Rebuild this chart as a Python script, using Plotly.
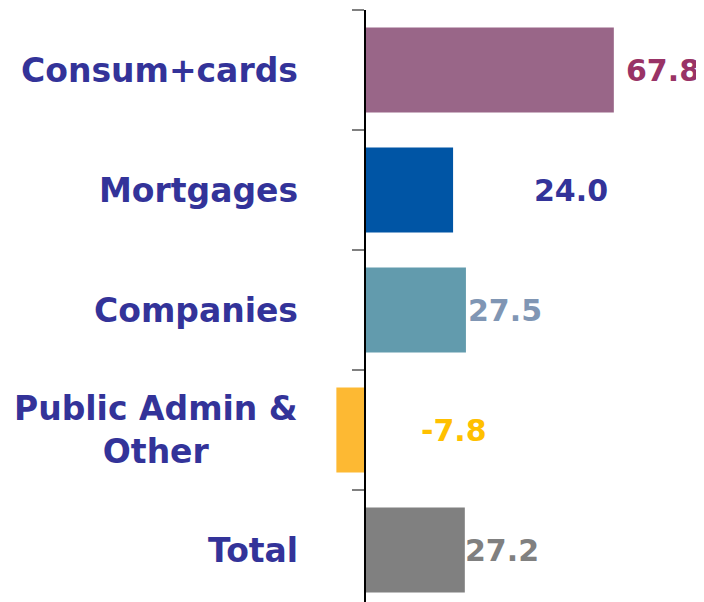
import plotly.graph_objects as go

categories = ["Consum+cards", "Mortgages", "Companies", "Public Admin &<br>Other", "Total"]
values = [67.8, 24.0, 27.5, -7.8, 27.2]
value_labels = ["67.8", "24.0", "27.5", "-7.8", "27.2"]

bar_colors = ["#996688", "#0055A5", "#629BAD", "#FDB933", "#808080"]
label_colors = ["#993366", "#333399", "#8096B4", "#FFC000", "#808080"]
# horizontal pixel offsets of the value labels from the bar end (or from zero for negatives)
label_shift_px = [10, 79, 0, 54, -2]

PAGE_OFFSET = 8  # default body margin of the html page
W, H = 704 - PAGE_OFFSET, 602 - PAGE_OFFSET
px_per_unit = 3.67
zero_px = 365 - PAGE_OFFSET
x_min = -zero_px / px_per_unit
x_max = (W - zero_px) / px_per_unit
top_margin = 10 - PAGE_OFFSET
cat_px = 120
y_bottom = -0.5 + (H - top_margin) / cat_px

fig = go.Figure()
fig.add_trace(go.Bar(
    y=categories,
    x=values,
    orientation="h",
    marker=dict(color=bar_colors, line=dict(width=0)),
    width=0.71,
    hoverinfo="skip",
))

# category names (centre-aligned lines, right edge left of the axis)
for cat in categories:
    fig.add_annotation(
        x=0, y=cat, text=cat, showarrow=False,
        xanchor="right", yanchor="middle", xshift=-65, align="center",
        font=dict(family="DejaVu Sans", size=33, color="#333399", weight="bold"),
    )

for cat, v, lab, col, sh in zip(categories, values, value_labels, label_colors, label_shift_px):
    fig.add_annotation(
        x=max(v, 0), y=cat, text=lab, showarrow=False,
        xanchor="left", yanchor="middle", xshift=sh,
        font=dict(family="DejaVu Sans", size=30, color=col, weight="bold"),
    )

fig.update_layout(
    width=W, height=H,
    margin=dict(l=0, r=0, t=top_margin, b=0),
    paper_bgcolor="white", plot_bgcolor="white",
    showlegend=False,
    xaxis=dict(range=[x_min, x_max], visible=False, showgrid=False, zeroline=False),
    yaxis=dict(
        type="category",
        range=[y_bottom, -0.5],
        anchor="free",
        position=(0 - x_min) / (x_max - x_min),
        showline=True, linecolor="black", linewidth=2,
        ticks="outside", ticklen=12, tickwidth=2, tickcolor="#808080",
        tickson="boundaries",
        showgrid=False, zeroline=False,
        showticklabels=False,
    ),
)

fig.write_html("out.html")
